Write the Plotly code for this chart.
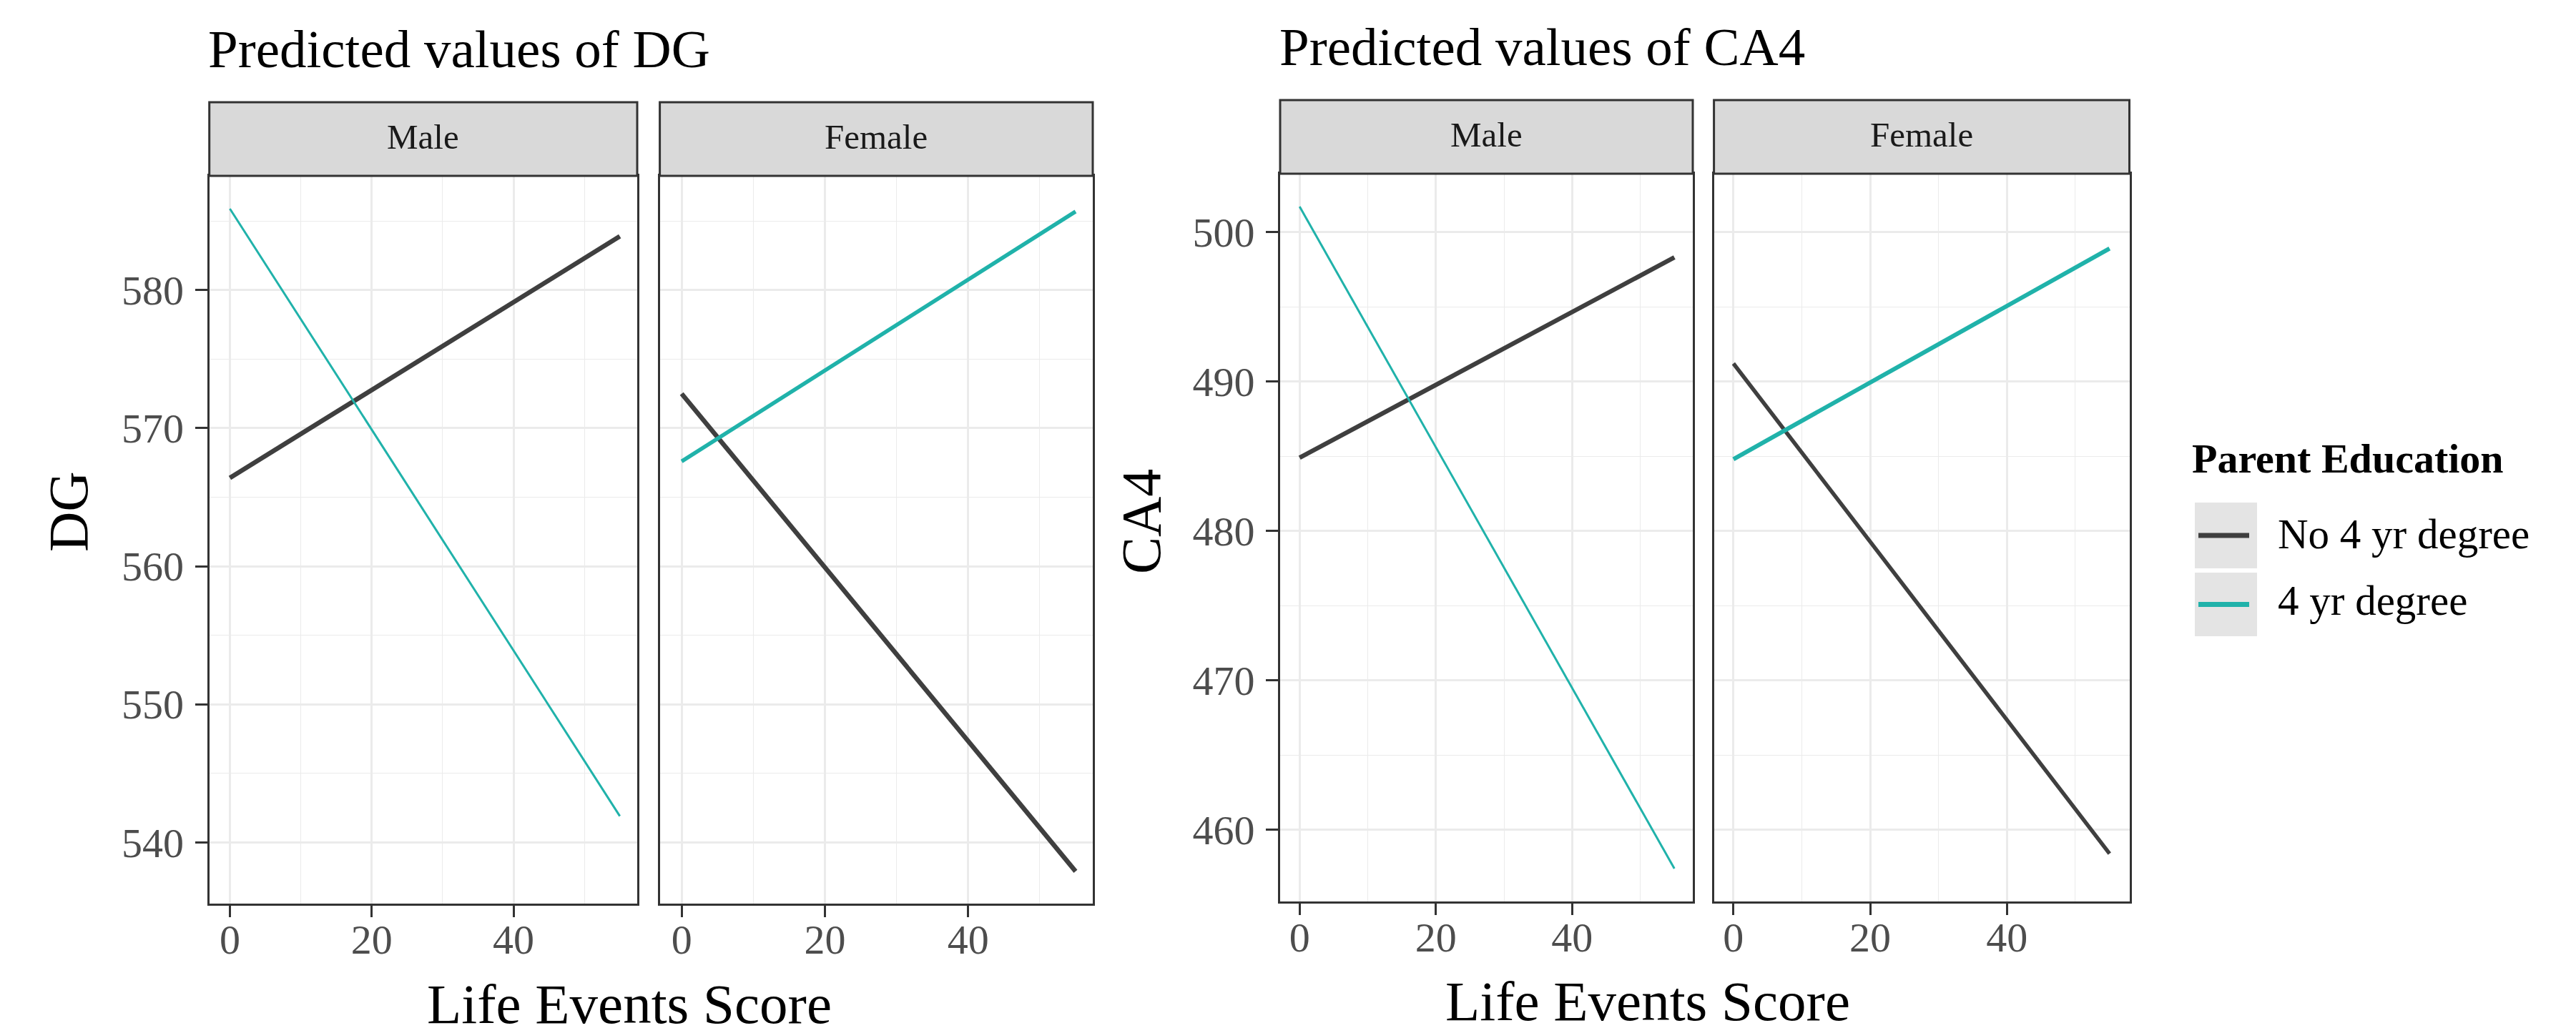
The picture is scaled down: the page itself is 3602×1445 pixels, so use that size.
import plotly.graph_objects as go

W, H = 3602, 1445

# ---------------- data ----------------
life_events = [0, 55]
groups = ["No 4 yr degree", "4 yr degree"]
sexes = ["Male", "Female"]

dg_male_no4 = [566.4, 583.9]
dg_male_4yr = [585.9, 541.9]
dg_female_no4 = [572.5, 537.9]
dg_female_4yr = [567.6, 585.7]

ca4_male_no4 = [484.9, 498.3]
ca4_male_4yr = [501.7, 457.4]
ca4_female_no4 = [491.2, 458.4]
ca4_female_4yr = [484.8, 498.9]

dg_ticks = [540, 550, 560, 570, 580]
ca4_ticks = [460, 470, 480, 490, 500]
x_ticks = [0, 20, 40]

# ---------------- styles ----------------
FONT = "Liberation Serif"
C_NO = "#3F3F3F"
C_YES = "#20B2AA"
BORDER = "#333333"
GRID = "#EBEBEB"
STRIP = "#D9D9D9"

# panel pixel boxes (x0, x1, y0, y1) in page pixels
panels = [
    (284.7, 883.0, 238.0, 1256.0),
    (914.6, 1520.0, 238.0, 1256.0),
    (1782.0, 2359.0, 235.0, 1253.0),
    (2388.6, 2969.5, 235.0, 1253.0),
]
strips = [(135.0, 238.0), (135.0, 238.0), (132.0, 235.0), (132.0, 235.0)]
xranges = [[-2.9, 57.45], [-3.05, 57.4], [-2.86, 57.7], [-2.85, 57.9]]
yranges = [[535.56, 588.28], [535.56, 588.28], [455.2, 503.9], [455.2, 503.9]]
ytickv = [dg_ticks, dg_ticks, ca4_ticks, ca4_ticks]

series = [
    (dg_male_no4, dg_male_4yr),
    (dg_female_no4, dg_female_4yr),
    (ca4_male_no4, ca4_male_4yr),
    (ca4_female_no4, ca4_female_4yr),
]
widths_no = [6.5, 6.5, 6.3, 5.5]
widths_yes = [3.0, 5.5, 3.0, 6.0]

fig = go.Figure()
layout = dict(
    width=W, height=H,
    margin=dict(l=0, r=0, t=0, b=0),
    paper_bgcolor="white", plot_bgcolor="white",
    showlegend=False,
    font=dict(family=FONT, color="#1A1A1A"),
)


def px(x):
    return x / W


def py(y):
    return 1 - y / H


shapes = []
annotations = []

for i, (x0, x1, y0, y1) in enumerate(panels):
    n = "" if i == 0 else str(i + 1)
    ax = "x" + n
    ay = "y" + n
    no, yes = series[i]
    fig.add_trace(go.Scatter(x=life_events, y=no, mode="lines", name=groups[0],
                             line=dict(color=C_NO, width=widths_no[i]),
                             xaxis=ax, yaxis=ay, showlegend=False))
    fig.add_trace(go.Scatter(x=life_events, y=yes, mode="lines", name=groups[1],
                             line=dict(color=C_YES, width=widths_yes[i]),
                             xaxis=ax, yaxis=ay, showlegend=False))
    left = i in (0, 2)
    layout["xaxis" + n] = dict(
        domain=[px(x0), px(x1)], anchor=ay, range=xranges[i],
        tickmode="array", tickvals=x_ticks,
        showgrid=True, gridcolor=GRID, gridwidth=2.5,
        minor=dict(tickvals=[10, 30, 50], showgrid=True, gridcolor=GRID, gridwidth=1.3, ticks=""),
        ticks="outside", ticklen=16, tickwidth=3, tickcolor=BORDER,
        ticklabelstandoff=-19,
        showline=True, mirror=True, linecolor=BORDER, linewidth=3,
        zeroline=False,
        tickfont=dict(family=FONT, size=58, color="#4D4D4D"),
    )
    yt = ytickv[i]
    layout["yaxis" + n] = dict(
        domain=[py(y1), py(y0)], anchor=ax, range=yranges[i],
        tickmode="array", tickvals=yt,
        showgrid=True, gridcolor=GRID, gridwidth=2.5,
        minor=dict(tickvals=[v + 5 for v in [yt[0] - 10] + yt], showgrid=True,
                   gridcolor=GRID, gridwidth=1.3, ticks=""),
        ticks="outside" if left else "", ticklen=17, tickwidth=3, tickcolor=BORDER,
        ticklabelstandoff=4,
        showticklabels=left,
        showline=True, mirror=True, linecolor=BORDER, linewidth=3,
        zeroline=False,
        tickfont=dict(family=FONT, size=58, color="#4D4D4D"),
    )
    s0, s1 = strips[i]
    shapes.append(dict(type="rect", xref="paper", yref="paper",
                       x0=px(x0), x1=px(x1), y0=py(s1), y1=py(s0),
                       fillcolor=STRIP, line=dict(color=BORDER, width=3)))
    annotations.append(dict(text=sexes[i % 2], xref="paper", yref="paper",
                            x=px((x0 + x1) / 2), y=py((s0 + s1) / 2 - 3),
                            xanchor="center", yanchor="middle", showarrow=False,
                            font=dict(family=FONT, size=49, color="#1A1A1A")))

# titles
annotations.append(dict(text="Predicted values of DG", xref="paper", yref="paper",
                        x=px(281), y=py(60.5), xanchor="left", yanchor="middle",
                        showarrow=False, font=dict(family=FONT, size=75, color="black")))
annotations.append(dict(text="Predicted values of CA4", xref="paper", yref="paper",
                        x=px(1779), y=py(58), xanchor="left", yanchor="middle",
                        showarrow=False, font=dict(family=FONT, size=75, color="black")))
# axis titles
annotations.append(dict(text="DG", xref="paper", yref="paper", x=px(88), y=py(708),
                        xanchor="center", yanchor="middle", textangle=-90,
                        showarrow=False, font=dict(family=FONT, size=78, color="black")))
annotations.append(dict(text="CA4", xref="paper", yref="paper", x=px(1587), y=py(722),
                        xanchor="center", yanchor="middle", textangle=-90,
                        showarrow=False, font=dict(family=FONT, size=78, color="black")))
annotations.append(dict(text="Life Events Score", xref="paper", yref="paper", x=px(872), y=py(1396),
                        xanchor="center", yanchor="middle",
                        showarrow=False, font=dict(family=FONT, size=79, color="black")))
annotations.append(dict(text="Life Events Score", xref="paper", yref="paper", x=px(2296), y=py(1392),
                        xanchor="center", yanchor="middle",
                        showarrow=False, font=dict(family=FONT, size=79, color="black")))

# legend (drawn manually)
annotations.append(dict(text="<b>Parent Education</b>", xref="paper", yref="paper",
                        x=px(3055), y=py(633), xanchor="left", yanchor="middle",
                        showarrow=False, font=dict(family=FONT, size=58, color="black")))
key_boxes = [(695, 787), (793, 882)]
key_colors = [C_NO, C_YES]
label_mid = [739, 832]
for (k0, k1), col, lab, lm in zip(key_boxes, key_colors, groups, label_mid):
    shapes.append(dict(type="rect", xref="paper", yref="paper",
                       x0=px(3061), x1=px(3148), y0=py(k1), y1=py(k0),
                       fillcolor="#E4E4E4", line=dict(width=0)))
    ym = (k0 + k1) / 2
    shapes.append(dict(type="line", xref="paper", yref="paper",
                       x0=px(3066), x1=px(3137), y0=py(ym), y1=py(ym),
                       line=dict(color=col, width=7)))
    annotations.append(dict(text=lab, xref="paper", yref="paper",
                            x=px(3175), y=py(lm), xanchor="left", yanchor="middle",
                            showarrow=False, font=dict(family=FONT, size=59, color="black")))

layout["shapes"] = shapes
layout["annotations"] = annotations
fig.update_layout(**layout)
fig.write_html("out.html")
